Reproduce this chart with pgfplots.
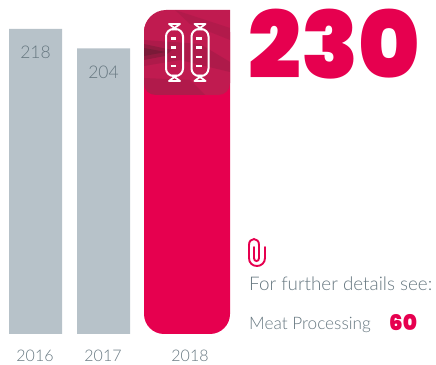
\documentclass[border=0pt]{standalone}
\usepackage{pgfplots}
\pgfplotsset{compat=1.18}
\usepackage{fontspec}
\setmainfont{Poppins}[UprightFont=* Light,BoldFont=* Black]
\newfontfamily\lightface{Lato}[UprightFont=* Light]
\definecolor{barGrey}{HTML}{B7C2C9}
\definecolor{accent}{HTML}{E6004F}
\definecolor{inkGrey}{HTML}{667780}
\definecolor{smoked}{HTML}{C01B50}
\definecolor{darkmeat}{HTML}{5E1A30}
\begin{document}
\begin{tikzpicture}
\path[use as bounding box] (0,0) rectangle (436pt,364pt);
\begin{axis}[
  at={(0,0)},anchor=south west,
  scale only axis,width=436pt,height=364pt,
  xmin=0,xmax=436,ymin=-21.43,ymax=238.57,
  axis line style={draw=none},
  major tick length=0pt,
  ytick=\empty,
  xtick={35,103,190},
  xticklabels={2016,2017,2018},
  xticklabel style={font=\lightface\fontsize{16}{16}\selectfont,text=inkGrey,anchor=center,yshift=8pt},
  /pgf/number format/assume math mode=true,
  clip=false,
]
% annual totals, one bar per year
\addplot[ybar,bar width=53pt,bar shift=0pt,fill=barGrey,draw=none,
  nodes near coords,point meta=explicit symbolic,
  nodes near coords style={font=\lightface\fontsize{17.5}{17.5}\selectfont,text=inkGrey,anchor=north,yshift=-14pt}]
  coordinates {(35.5,218)[218] (103.5,204)[204]};
\addplot[ybar,bar width=86pt,bar shift=0pt,fill=accent,draw=none,rounded corners=20pt]
  coordinates {(187,230)};
\node[font=\bfseries\fontsize{93}{93}\selectfont,text=accent,anchor=center,inner sep=0pt]
  at (axis cs:334.5,207) {230};
\end{axis}
\begin{scope}[x=1pt,y=-1pt,yshift=364pt]
  % smoked band across the head of the tall bar
  \begin{scope}
    \clip (144,32) .. controls (144,20) and (154,10) .. (166,10) -- (230,10) -- (230,83)
      .. controls (230,90) and (225,95) .. (218,95) -- (156,95)
      .. controls (149,95) and (144,90) .. (144,83) -- cycle;
    \fill[smoked] (140,5) rectangle (235,100);
    \fill[darkmeat,opacity=.18] (144,40) -- (200,44) -- (230,62) -- (230,72) -- (180,60) -- (144,66) -- cycle;
    \fill[darkmeat,opacity=.35] (144,44) -- (172,50) -- (165,56) -- (144,60) -- cycle;
    \fill[darkmeat,opacity=.45] (144,48) -- (166,52) -- (144,56) -- cycle;
    \fill[darkmeat,opacity=.14] (175,10) -- (230,28) -- (230,40) -- (190,24) -- cycle;
    \fill[darkmeat,opacity=.15] (144,78) -- (190,80) -- (205,95) -- (144,95) -- cycle;
  \end{scope}
  % sausage pictogram
  \foreach \cx in {174.5,200}{
    \draw[white,line width=2pt,rounded corners=7.5pt] (\cx-8.5,29) rectangle (\cx+8.5,76);
    \draw[white,line width=1.8pt,line join=round] (\cx-5.5,24) -- (\cx+5.5,24) -- (\cx-2,29.5) -- (\cx+2,29.5) -- cycle;
    \draw[white,line width=1.8pt,line join=round] (\cx-5.5,81) -- (\cx+5.5,81) -- (\cx-2,75.5) -- (\cx+2,75.5) -- cycle;
    \foreach \yy in {38.5,47.5,57,66}
      \draw[white,line width=2.2pt] (\cx-4,\yy) -- (\cx+1.5,\yy);
  }
  % paper clip
  \draw[accent,line width=1.9pt,line cap=round]
    (265,247) -- (265,258) .. controls (265,263) and (261,266) .. (257,266)
    .. controls (252.5,266) and (249,263) .. (249,258) -- (249,245)
    .. controls (249,241.5) and (251,239) .. (254,239)
    .. controls (257,239) and (259,241.5) .. (259,245) -- (259,258)
    .. controls (259,260) and (258,261) .. (256.5,261)
    .. controls (255,261) and (254,260) .. (254,258) -- (254,247);
  % cross reference
  \node[font=\lightface\fontsize{18.8}{18.8}\selectfont,text=inkGrey,anchor=west,inner sep=0pt] at (249,284) {For further details see:};
  \node[font=\lightface\fontsize{17.2}{17.2}\selectfont,text=inkGrey,anchor=west,inner sep=0pt] at (249,324.5) {Meat Processing};
  \node[font=\bfseries\fontsize{21.5}{21.5}\selectfont,text=accent,anchor=west,inner sep=0pt] at (389,323) {60};
\end{scope}
\end{tikzpicture}
\end{document}
